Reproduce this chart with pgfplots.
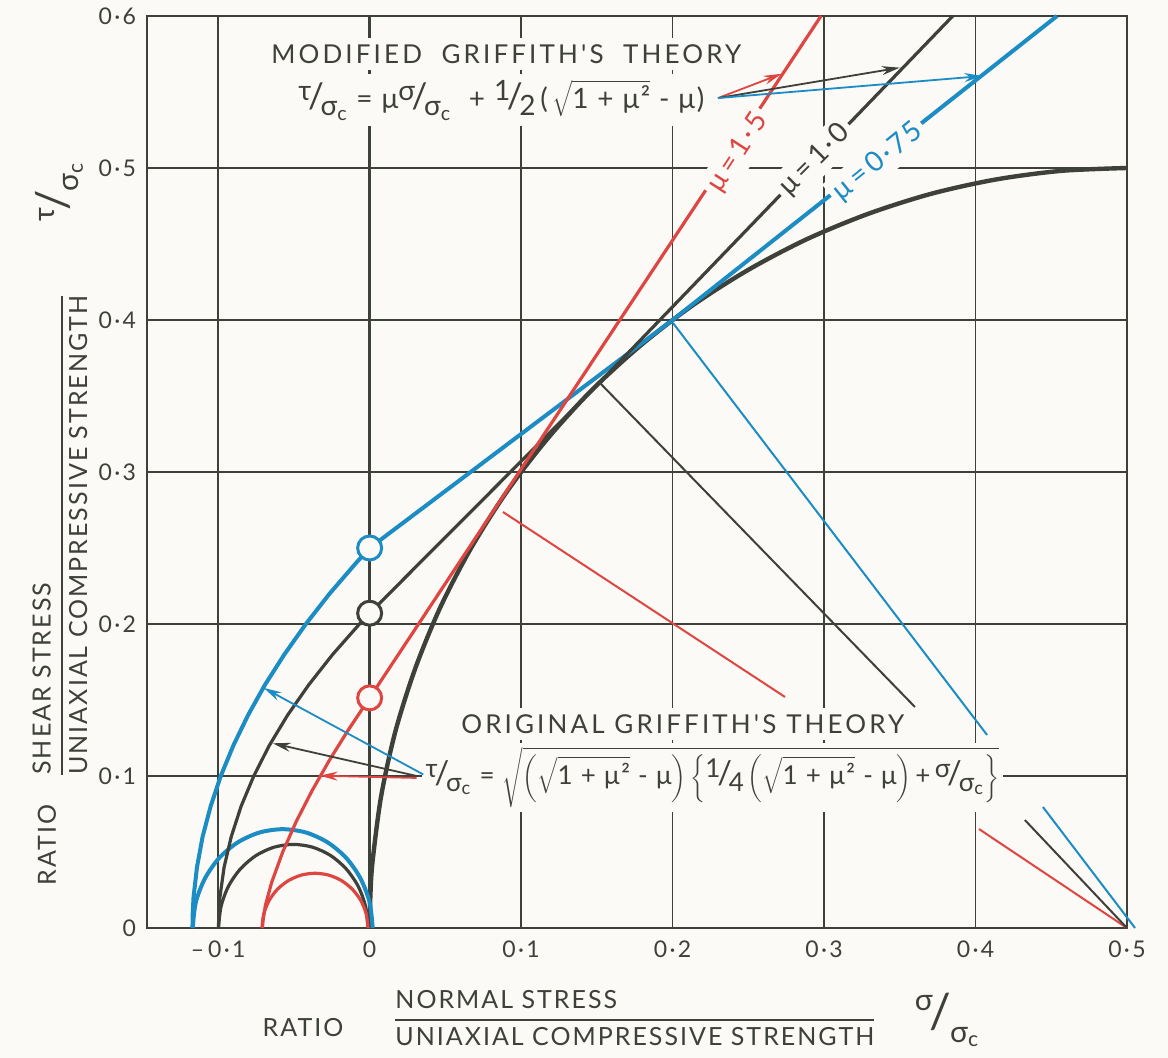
\documentclass[border=0pt]{standalone}
\usepackage{pgfplots}
\pgfplotsset{compat=1.18}
\usepackage{graphicx}
\usepackage{fontspec}
\setmainfont{Lato}
\newfontfamily\lsfont{Lato}[LetterSpace=12]
\newfontfamily\atfont{Lato}[LetterSpace=8]
\newfontfamily\tkfont{Lato}[LetterSpace=6]
\usetikzlibrary{arrows.meta}
\definecolor{gblue}{RGB}{28,140,196}
\definecolor{gred}{RGB}{222,70,66}
\definecolor{gdark}{RGB}{62,64,58}
\definecolor{paper}{RGB}{251,250,246}
\newcommand{\sfr}[2]{\raisebox{0.55ex}{#1}\kern-0.12em\scalebox{1.25}{/}\kern-0.12em\raisebox{-0.5ex}{#2}}
\newcommand{\sgc}{σ\textsubscript{c}}
\newcommand{\dt}{\kern0.1em·\kern0.1em}
\begin{document}
\begin{tikzpicture}[font=\lsfont\fontsize{13}{15}\selectfont, text=gdark]
\path[use as bounding box, fill=paper] (-73.5pt,-65pt) rectangle (510.5pt,464pt);
\begin{axis}[
  at={(0pt,0pt)}, anchor=south west,
  scale only axis, width=490pt, height=456pt,
  xmin=-0.147, xmax=0.5, ymin=0, ymax=0.6,
  clip=false,
  axis line style={gdark, line width=1.3pt},
  grid=major, major grid style={gdark, line width=0.85pt},
  major tick length=0pt, tick style={draw=none},
  xtick={-0.1,0,0.1,0.2,0.3,0.4,0.5},
  ytick={0,0.1,0.2,0.3,0.4,0.5,0.6},
  xticklabels={–\,0\dt1,0,0\dt1,0\dt2,0\dt3,0\dt4,0\dt5},
  yticklabels={0,0\dt1,0\dt2,0\dt3,0\dt4,0\dt5,0\dt6},
  tick label style={font=\tkfont\fontsize{11.5}{13}\selectfont, text=gdark},
  xticklabel style={yshift=-3pt},
  yticklabel style={xshift=-2pt},
]
% thick sigma=0 line
\addplot[gdark, line width=1.6pt] coordinates {(0,0) (0,0.6)};
% Mohr circle of uniaxial compression
\addplot[gdark, line width=2.2pt, smooth] coordinates {(0,0) (0.0005,0.0218) (0.0019,0.0436) (0.0076,0.0868) (0.0170,0.1294) (0.0302,0.1710) (0.0468,0.2113) (0.0670,0.25) (0.0904,0.2868) (0.1170,0.3214) (0.1464,0.3536) (0.1786,0.3830) (0.2132,0.4096) (0.25,0.4330) (0.2887,0.4532) (0.3290,0.4698) (0.3706,0.4830) (0.4132,0.4924) (0.4564,0.4981) (0.5,0.5)};
% tensile Mohr circles
\addplot[gblue, line width=2pt, smooth] coordinates {(0.0020,0) (0.0000,0.0168) (-0.0060,0.0325) (-0.0154,0.0460) (-0.0277,0.0563) (-0.0420,0.0628) (-0.0574,0.065) (-0.0728,0.0628) (-0.0871,0.0563) (-0.0994,0.0460) (-0.1088,0.0325) (-0.1148,0.0168) (-0.1168,0)};
\addplot[gdark, line width=1.6pt, smooth] coordinates {(-0.0010,0) (-0.0027,0.01423) (-0.0076,0.0275) (-0.0155,0.03889) (-0.0257,0.04763) (-0.0376,0.05313) (-0.0504,0.055) (-0.0632,0.05313) (-0.0751,0.04763) (-0.0853,0.03889) (-0.0932,0.0275) (-0.0981,0.01423) (-0.0998,0)};
\addplot[gred, line width=1.6pt, smooth] coordinates {(-0.0011,0) (-0.0023,0.00932) (-0.0058,0.018) (-0.0114,0.02546) (-0.0186,0.03118) (-0.0270,0.03477) (-0.0361,0.036) (-0.0452,0.03477) (-0.0536,0.03118) (-0.0609,0.02546) (-0.0664,0.018) (-0.0699,0.00932) (-0.0711,0)};
% normals to the envelope
\addplot[gred, line width=1pt] coordinates {(0.088,0.2737) (0.2742,0.152)};
\addplot[gred, line width=1pt] coordinates {(0.4023,0.0651) (0.5,0)};
\addplot[gdark, line width=1pt] coordinates {(0.152,0.3586) (0.360,0.1454)};
\addplot[gdark, line width=1pt] coordinates {(0.4326,0.071) (0.5,0)};
\addplot[gblue, line width=1pt] coordinates {(0.2003,0.398) (0.4076,0.127)};
\addplot[gblue, line width=1pt] coordinates {(0.4445,0.0796) (0.5053,0)};
% original Griffith (sigma<0) + modified Griffith lines
\addplot[gblue, line width=2pt] coordinates {(-0.117,0) (-0.1168,0.01) (-0.1163,0.02) (-0.1140,0.04) (-0.1103,0.06) (-0.1050,0.08) (-0.0983,0.10) (-0.0900,0.12) (-0.0803,0.14) (-0.0691,0.16) (-0.0563,0.18) (-0.0421,0.20) (-0.0264,0.22) (-0.0091,0.24) (0,0.25) (0.2,0.4) (0.4538,0.6)};
\addplot[gdark, line width=1.6pt] coordinates {(-0.0998,0) (-0.0996,0.01) (-0.0989,0.02) (-0.0961,0.04) (-0.0914,0.06) (-0.0849,0.08) (-0.0765,0.10) (-0.0663,0.12) (-0.0542,0.14) (-0.0402,0.16) (-0.0244,0.18) (-0.0067,0.20) (0,0.2071) (0.15,0.357) (0.385,0.6)};
\addplot[gred, line width=1.6pt] coordinates {(-0.0708,0) (-0.0704,0.005) (-0.0688,0.015) (-0.0647,0.03) (-0.0574,0.05) (-0.0485,0.07) (-0.0382,0.09) (-0.0268,0.11) (-0.0143,0.13) (0,0.1514) (0.298,0.6)};
% open circles at sigma = 0
\addplot[only marks, mark=*, mark size=6pt, mark options={draw=gblue, fill=paper, line width=1.5pt}] coordinates {(0,0.25)};
\addplot[only marks, mark=*, mark size=6pt, mark options={draw=gdark, fill=paper, line width=1.5pt}] coordinates {(0,0.2071)};
\addplot[only marks, mark=*, mark size=6pt, mark options={draw=gred, fill=paper, line width=1.5pt}] coordinates {(0,0.1514)};
% mu labels
\node[rotate=57, fill=paper, inner sep=2.5pt, text=gred, font=\tkfont\fontsize{14}{16}\selectfont] at (axis cs:0.2432,0.5099) {μ\,=\,1\dt5};
\node[rotate=45, fill=paper, inner sep=2.5pt, text=gdark, font=\tkfont\fontsize{14}{16}\selectfont] at (axis cs:0.294,0.5053) {μ\,=\,1\dt0};
\node[rotate=39, fill=paper, inner sep=2.5pt, text=gblue, font=\tkfont\fontsize{14}{16}\selectfont] at (axis cs:0.3356,0.504) {μ\,=\,0\dt75};
% modified Griffith text
\node[anchor=west, fill=paper, inner sep=3pt] at (axis cs:-0.0691,0.575) {MODIFIED\ \ GRIFFITH'S\ \ THEORY};
\node[anchor=west, fill=paper, inner sep=3pt, font=\tkfont\fontsize{14}{16}\selectfont] at (axis cs:-0.0513,0.5447) {\sfr{τ}{\sgc} = μ\sfr{σ}{\sgc}\ \ + \sfr{1}{2}\,(\,$\sqrt{\mbox{1 + μ²}}$ - μ)};
% original Griffith text
\node[anchor=west, fill=paper, inner sep=3pt] at (axis cs:0.0563,0.1342) {ORIGINAL\ GRIFFITH'S\ THEORY};
\node[anchor=west, fill=paper, inner sep=2pt, font=\tkfont\fontsize{13}{15}\selectfont] at (axis cs:0.034,0.099) {\sfr{τ}{\sgc} = $\sqrt{\left(\sqrt{\mbox{1 + μ²}}\mbox{ - μ}\right)\left\{\mbox{\sfr{1}{4}}\left(\sqrt{\mbox{1 + μ²}}\mbox{ - μ}\right)\mbox{+\,\sfr{σ}{\sgc}}\right\}}$};
% arrows
\draw[gred, line width=0.9pt, -{Stealth[length=9pt,width=4.5pt]}] (axis cs:0.230,0.546) -- (axis cs:0.272,0.562);
\draw[gdark, line width=0.9pt, -{Stealth[length=9pt,width=4.5pt]}] (axis cs:0.230,0.546) -- (axis cs:0.350,0.566);
\draw[gblue, line width=0.9pt, -{Stealth[length=9pt,width=4.5pt]}] (axis cs:0.230,0.546) -- (axis cs:0.4045,0.5605);
\draw[gblue, line width=0.9pt, -{Stealth[length=9pt,width=4.5pt]}] (axis cs:0.0354,0.101) -- (axis cs:-0.070,0.158);
\draw[gdark, line width=0.9pt, -{Stealth[length=9pt,width=4.5pt]}] (axis cs:0.031,0.100) -- (axis cs:-0.064,0.1215);
\draw[gred, line width=0.9pt, -{Stealth[length=9pt,width=4.5pt]}] (axis cs:0.031,0.0987) -- (axis cs:-0.033,0.1002);
\end{axis}
% y axis title
\node[rotate=90, font=\atfont\fontsize{12.5}{15}\selectfont] at (-50pt,41.5pt) {RATIO};
\node[rotate=90, anchor=west, inner sep=0pt, font=\atfont\fontsize{12.5}{15}\selectfont] at (-42.5pt,76.5pt) {\renewcommand{\arraystretch}{1.15}\setlength{\arrayrulewidth}{0.9pt}\begin{tabular}{@{}l@{}}SHEAR\ STRESS\\\hline UNIAXIAL\ COMPRESSIVE\ STRENGTH\end{tabular}};
\node[rotate=90, font=\lsfont\fontsize{15}{17}\selectfont] at (-44pt,368pt) {\raisebox{0.9ex}{τ}\kern-0.1em\scalebox{1.5}{/}\kern-0.05em\raisebox{-0.7ex}{\sgc}};
% x axis title
\node[font=\atfont\fontsize{12.5}{15}\selectfont] at (78pt,-50pt) {RATIO};
\node[anchor=west, inner sep=0pt, font=\atfont\fontsize{12.5}{15}\selectfont] at (124pt,-46pt) {\renewcommand{\arraystretch}{1.15}\setlength{\arrayrulewidth}{0.9pt}\begin{tabular}{@{}l@{}}NORMAL\ STRESS\\\hline UNIAXIAL\ COMPRESSIVE\ STRENGTH\end{tabular}};
\node[font=\lsfont\fontsize{15}{17}\selectfont] at (400pt,-46pt) {\raisebox{1.2ex}{σ}\kern-0.1em\scalebox{1.6}{/}\kern-0.05em\raisebox{-0.9ex}{\sgc}};
\end{tikzpicture}
\end{document}
